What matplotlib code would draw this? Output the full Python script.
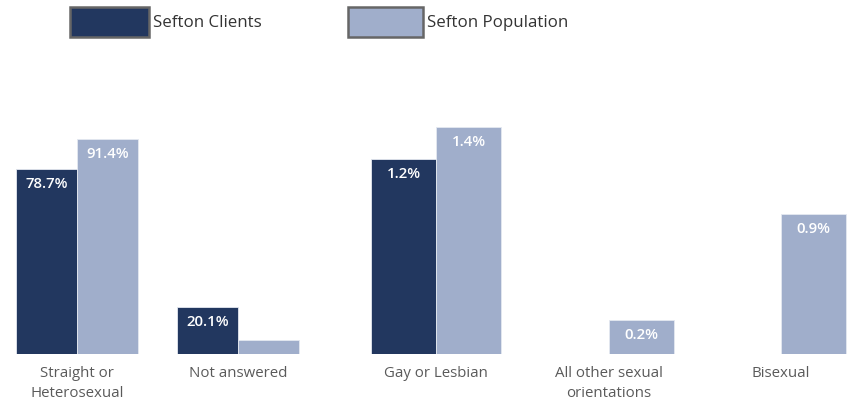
import matplotlib.pyplot as plt
from matplotlib.patches import Rectangle
import numpy as np

plt.rcParams['font.family'] = ['Open Sans', 'DejaVu Sans']

# left visual (0-100% scale)
cats_left = ['Straight or\nHeterosexual', 'Not answered']
clients_left = [78.7, 20.1]
population_left = [91.4, 6.0]

# right visual (small percentages)
cats_right = ['Gay or Lesbian', 'All other sexual\norientations', 'Bisexual']
clients_right = [1.2, None, None]
population_right = [1.4, 0.21, 0.86]

dark = '#22375f'
light = '#a0aecb'
W, H = 847, 406

fig = plt.figure(figsize=(W / 100, H / 100), dpi=100)


def px_axes(x0, x1, y_top, y_base):
    return fig.add_axes([x0 / W, 1 - y_base / H, (x1 - x0) / W, (y_base - y_top) / H])


def draw(ax, cats, clients, population, width, ymax):
    x = np.arange(len(cats))
    for i in range(len(cats)):
        for val, off, col in [(clients[i], -width / 2, dark), (population[i], width / 2, light)]:
            if val is None:
                continue
            ax.bar(x[i] + off, val, width, color=col, edgecolor='#e4e8f0', linewidth=0.6)
            if val / ymax > 0.1:
                ax.annotate(f'{val:.1f}%', (x[i] + off, val), xytext=(0, -14),
                            textcoords='offset pixels', ha='center', va='center',
                            color='white', fontsize=10.8, fontweight='semibold')
    ax.set_ylim(0, ymax)
    ax.set_xticks(x)
    ax.set_xticklabels(cats, fontsize=10.8, color='#5a5a5a', linespacing=1.45)
    ax.tick_params(length=0, pad=8)
    ax.set_yticks([])
    for s in ax.spines.values():
        s.set_visible(False)


# left: categories at px 77 and 238, 161 px apart
axl = px_axes(0, 320, 120, 355)
draw(axl, cats_left, clients_left, population_left, 61 / 161, 100)
axl.set_xlim(-77 / 161, (320 - 77) / 161)

# right: categories at px 436, 608, 781
axr = px_axes(340, 847, 120, 355)
draw(axr, cats_right, clients_right, population_right, 65 / 172.5, 235 / 162.5)
axr.set_xlim((340 - 436) / 172.5, (847 - 436) / 172.5)

# legend
for x0, w, col, label in [(70, 79, dark, 'Sefton Clients'), (348, 75, light, 'Sefton Population')]:
    fig.patches.append(Rectangle((x0 / W, 1 - 38 / H), w / W, 30 / H, transform=fig.transFigure,
                                 facecolor=col, edgecolor='#666666', linewidth=1.8))
    fig.text((x0 + w + 4) / W, 1 - 23 / H, label, fontsize=12.2, color='#333333', va='center')

fig.savefig('out.png', dpi=100)
